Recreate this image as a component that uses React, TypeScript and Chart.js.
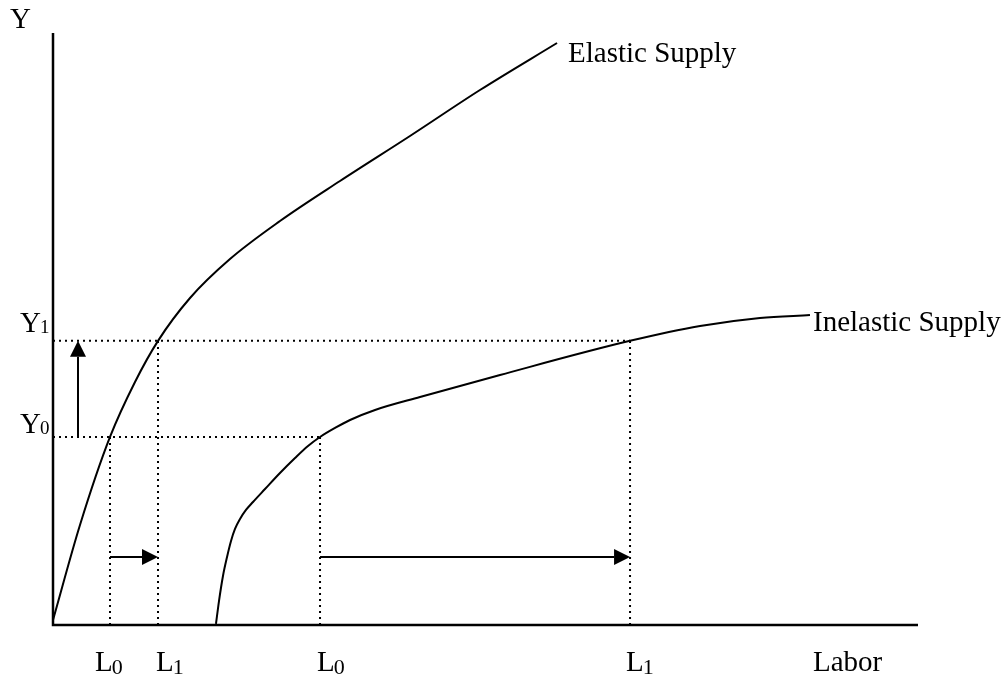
import React, { useEffect, useRef } from "react";
import { Chart, registerables } from "chart.js";

Chart.register(...registerables);

// Elastic supply curve (Labor, Y)
const elasticLabor = [0, 3.12, 6.59, 9.48, 12.14, 15.84, 20.46, 26.24, 33.18, 41.27, 49.36, 58.27];
const elasticY = [0.84, 16.89, 31.76, 41.05, 48.0, 55.24, 61.82, 68.24, 75.0, 82.6, 90.37, 98.31];

// Inelastic supply curve (Labor, Y)
const inelasticLabor = [18.84, 19.19, 19.65, 20.12, 20.58, 21.04, 21.62, 22.31, 23.12, 24.51, 26.24, 27.98, 29.48, 30.87, 32.6, 34.34, 37.23, 42.43, 51.68, 66.71, 74.8, 81.73, 87.51];
const inelasticY = [0.17, 4.05, 8.28, 11.49, 14.19, 16.22, 17.91, 19.43, 20.78, 22.97, 25.68, 28.21, 30.24, 31.76, 33.28, 34.63, 36.32, 38.51, 42.23, 48.0, 50.51, 51.86, 52.36];

// Y0, Y1 levels
const yLevels = [31.76, 48.0];
// L0, L1 for elastic and inelastic curves
const elasticL = [6.59, 12.14];
const inelasticL = [30.87, 66.71];
// horizontal arrows height, vertical arrow position
const shiftArrowY = 11.5;
const riseArrowX = 2.89;

const yLabels = ["Y", "Y"];
const ySubs = ["0", "1"];
const xLabels = ["L", "L", "L", "L"];
const xSubs = ["0", "1", "0", "1"];

const FONT = '"Liberation Serif", "Times New Roman", serif';

const seg = (x1: number, y1: number, x2: number, y2: number) => [
  { x: x1, y: y1 },
  { x: x2, y: y2 },
];

export default function App() {
  const ref = useRef<HTMLCanvasElement | null>(null);

  useEffect(() => {
    if (!ref.current) return;
    const dotted = {
      borderColor: "#000",
      borderWidth: 2,
      borderDash: [2, 4],
      pointRadius: 0,
      fill: false,
    };
    const solid = {
      borderColor: "#000",
      borderWidth: 2,
      pointRadius: 0,
      fill: false,
      cubicInterpolationMode: "monotone" as const,
    };
    const datasets: any[] = [
      { ...solid, label: "Elastic Supply", data: elasticLabor.map((x, i) => ({ x, y: elasticY[i] })) },
      { ...solid, label: "Inelastic Supply", data: inelasticLabor.map((x, i) => ({ x, y: inelasticY[i] })) },
      { ...dotted, label: "Y0", data: seg(0, yLevels[0], inelasticL[0], yLevels[0]) },
      { ...dotted, label: "Y1", data: seg(0, yLevels[1], inelasticL[1], yLevels[1]) },
      { ...dotted, label: "eL0", data: seg(elasticL[0], 0, elasticL[0], yLevels[0]) },
      { ...dotted, label: "eL1", data: seg(elasticL[1], 0, elasticL[1], yLevels[1]) },
      { ...dotted, label: "iL0", data: seg(inelasticL[0], 0, inelasticL[0], yLevels[0]) },
      { ...dotted, label: "iL1", data: seg(inelasticL[1], 0, inelasticL[1], yLevels[1]) },
    ];

    const arrows = [
      { from: [riseArrowX, yLevels[0]], to: [riseArrowX, yLevels[1]] },
      { from: [elasticL[0], shiftArrowY], to: [elasticL[1], shiftArrowY] },
      { from: [inelasticL[0], shiftArrowY], to: [inelasticL[1], shiftArrowY] },
    ];

    const overlay = {
      id: "overlay",
      afterDatasetsDraw(chart: any) {
        const { ctx, chartArea, scales } = chart;
        const xs = scales.x;
        const ys = scales.y;
        ctx.save();
        // axes
        ctx.strokeStyle = "#000";
        ctx.lineWidth = 2.5;
        ctx.setLineDash([]);
        ctx.beginPath();
        ctx.moveTo(chartArea.left, chartArea.top);
        ctx.lineTo(chartArea.left, chartArea.bottom);
        ctx.lineTo(chartArea.right, chartArea.bottom);
        ctx.stroke();

        // arrows
        ctx.fillStyle = "#000";
        for (const a of arrows) {
          const x1 = xs.getPixelForValue(a.from[0]);
          const y1 = ys.getPixelForValue(a.from[1]);
          const x2 = xs.getPixelForValue(a.to[0]);
          const y2 = ys.getPixelForValue(a.to[1]);
          const ang = Math.atan2(y2 - y1, x2 - x1);
          const len = 16;
          const hw = 8;
          const bx = x2 - Math.cos(ang) * len;
          const by = y2 - Math.sin(ang) * len;
          ctx.lineWidth = 2;
          ctx.beginPath();
          ctx.moveTo(x1, y1);
          ctx.lineTo(bx, by);
          ctx.stroke();
          ctx.beginPath();
          ctx.moveTo(x2, y2);
          ctx.lineTo(bx - Math.sin(ang) * hw, by + Math.cos(ang) * hw);
          ctx.lineTo(bx + Math.sin(ang) * hw, by - Math.cos(ang) * hw);
          ctx.closePath();
          ctx.fill();
        }

        // text
        ctx.textAlign = "left";
        ctx.textBaseline = "alphabetic";
        const big = `29px ${FONT}`;
        const sub = (main: string, s: string, x: number, y: number, size: number, dy: number) => {
          ctx.font = big;
          ctx.fillText(main, x, y);
          const w = ctx.measureText(main).width;
          ctx.font = `${size}px ${FONT}`;
          ctx.fillText(s, x + w - 1, y + dy);
        };
        ctx.font = big;
        ctx.fillText("Y", 10, 28);
        ctx.fillText("Labor", 813, 671);
        ctx.fillText("Elastic Supply", 568, 62);
        ctx.fillText("Inelastic Supply", 813, 331);

        // Y0, Y1
        const yPos = [433, 332];
        yLabels.forEach((t, i) => sub(t, ySubs[i], 20, yPos[i], 19, 1));
        // L labels
        const lPos = [95, 156, 317, 626];
        xLabels.forEach((t, i) => sub(t, xSubs[i], lPos[i], 671, 22, 3));
        ctx.restore();
      },
    };

    const chart = new Chart(ref.current, {
      type: "line",
      data: { datasets },
      options: {
        animation: false,
        responsive: false,
        devicePixelRatio: 1,
        layout: { padding: { left: 53, right: 85, top: 33, bottom: 52 } },
        plugins: { legend: { display: false }, tooltip: { enabled: false }, title: { display: false } },
        scales: {
          x: { type: "linear", min: 0, max: 100, display: false },
          y: { type: "linear", min: 0, max: 100, display: false },
        },
        elements: { line: { tension: 0 } },
      },
      plugins: [overlay],
    });
    return () => chart.destroy();
  }, []);

  return (
    <div style={{ position: "absolute", left: 0, top: 0, width: 1003, height: 677, background: "#fff" }}>
      <canvas ref={ref} width={1003} height={677} style={{ display: "block" }} />
    </div>
  );
}
